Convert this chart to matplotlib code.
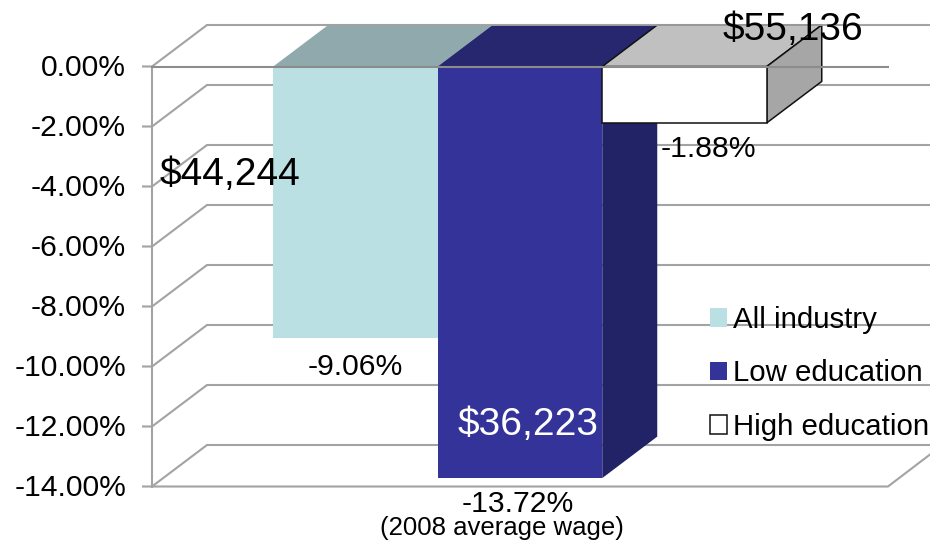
import numpy as np
import matplotlib
matplotlib.use('Agg')
import matplotlib.pyplot as plt
from matplotlib.patches import Polygon

plt.rcParams['font.family'] = ['Liberation Sans', 'DejaVu Sans']

# data
series = ['All industry', 'Low education', 'High education']
changes = [-9.06, -13.72, -1.88]
wages = ['$44,244', '$36,223', '$55,136']
ticks = [0, -2, -4, -6, -8, -10, -12, -14]

W, H = 930, 542
# front plane of the 3d box, in pixels
left, right, top, bottom = 152, 888, 66.5, 486.5
px_x = right - left
px_y = (bottom - top) / 14.0
# depth of the box in data units
dx = 55 / px_x
dy = 41.5 / px_y
bar_w = 164.5 / px_x

front = ['#BBE0E3', '#333399', '#FFFFFF']
top_c = ['#90A9AD', '#27276F', '#C0C0C0']
side_c = ['#8FA8AC', '#222266', '#A6A6A6']
edge_c = ['none', 'none', '#111111']
grid_c = '#A3A3A3'

fig = plt.figure(figsize=(W / 100, H / 100), dpi=100)
ax = fig.add_axes([left / W, 1 - bottom / H, px_x / W, (bottom - top) / H])
ax.set_xlim(0, 1)
ax.set_ylim(-14, 0)
ax.axis('off')

def px(x, y):
    return x / W, 1 - y / H

# back wall gridlines and left wall
for t in ticks:
    ax.plot([-9 / px_x, 0, dx, 1.1], [t, t, t + dy, t + dy], color=grid_c, lw=1.5,
            clip_on=False, zorder=1, solid_joinstyle='miter')
ax.plot([0, 0], [-14, 0], color=grid_c, lw=1.5, clip_on=False, zorder=1)
# floor
ax.plot([0, 1, 1 + 42 / px_x], [-14, -14, -14 + 32 / px_y], color=grid_c, lw=1.5,
        clip_on=False, zorder=1)

# bars, front faces through ax.bar, then top and side faces
x0 = (520 - left) / px_x
xs = x0 + (np.arange(3) - 1) * bar_w
for i in range(3):
    v = changes[i]
    l = xs[i] - bar_w / 2
    r = xs[i] + bar_w / 2
    z = 2 + i
    lw = 1.1 if edge_c[i] != 'none' else 0
    ax.add_patch(Polygon([[l, 0], [r, 0], [r + dx, dy], [l + dx, dy]], closed=True,
                         fc=top_c[i], ec=edge_c[i], lw=lw, clip_on=False, zorder=z))
    ax.add_patch(Polygon([[r, 0], [r + dx, dy], [r + dx, v + dy], [r, v]], closed=True,
                         fc=side_c[i], ec=edge_c[i], lw=lw, clip_on=False, zorder=z))
    ax.bar(xs[i], v, bar_w, color=front[i], edgecolor=edge_c[i], linewidth=lw,
           label=series[i], clip_on=False, zorder=z + 0.5)

# front zero line and back top line run over the bars
ax.plot([0, 1], [0, 0], color='#8C8C8C', lw=1.5, clip_on=False, zorder=6)
ax.plot([dx, 1.1], [dy, dy], color=grid_c, lw=1.3, clip_on=False, zorder=6)

# tick labels
for t in ticks:
    fig.text(126 / W, 1 - (top - t * px_y + 1.5) / H, '%.2f%%' % t, ha='right',
             va='center', fontsize=21.6, color='black')

# value labels
lab = [(355, 367), (518, 504), (708, 149)]
for i in range(3):
    x, y = px(*lab[i])
    fig.text(x, y, '%.2f%%' % changes[i], ha='center', va='center', fontsize=21.7, color='black', zorder=8)

# wage labels
wpos = [(230, 175), (528, 425), (792.5, 30)]
wcol = ['black', 'white', 'black']
for i in range(3):
    x, y = px(*wpos[i])
    fig.text(x, y, wages[i], ha='center', va='center', fontsize=28, color=wcol[i], zorder=8)

x, y = px(502, 528)
fig.text(x, y, '(2008 average wage)', ha='center', va='center', fontsize=18.5, color='black')

leg = ax.legend(loc='upper left', bbox_to_anchor=(710 / W, 1 - 306 / H), bbox_transform=fig.transFigure,
                frameon=False, fontsize=21.2, handlelength=0.59, handleheight=0.59,
                handletextpad=0.2, labelspacing=0.86, borderpad=0, borderaxespad=0)
leg.set_zorder(9)

fig.savefig('out.png', dpi=100)
